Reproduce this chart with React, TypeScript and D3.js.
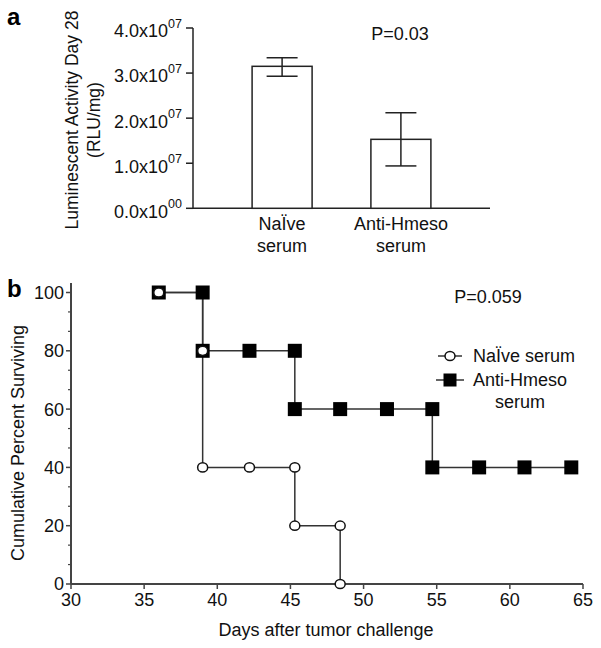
import React from "react";
import * as d3 from "d3";

// Panel a data
const barCategories = ["NaÏve|serum", "Anti-Hmeso|serum"];
const barMeans = [3.15e7, 1.53e7];
const barErrHigh = [3.34e7, 2.12e7];
const barErrLow = [2.93e7, 0.94e7];
const barTicks = [0, 1e7, 2e7, 3e7, 4e7];
const barTickLabels = ["0.0x10", "1.0x10", "2.0x10", "3.0x10", "4.0x10"];
const barTickExps = ["00", "07", "07", "07", "07"];

// Panel b data (Kaplan-Meier)
const naiveDays = [36, 39, 39, 42.2, 45.3, 45.3, 48.4, 48.4];
const naiveSurv = [100, 80, 40, 40, 40, 20, 20, 0];
const antiDays = [36, 39, 39, 42.2, 45.3, 45.3, 48.4, 51.6, 54.7, 54.7, 57.9, 61, 64.2];
const antiSurv = [100, 100, 80, 80, 80, 60, 60, 60, 60, 40, 40, 40, 40];
const xTicksB = [30, 35, 40, 45, 50, 55, 60, 65];
const yTicksB = [0, 20, 40, 60, 80, 100];

const FONT = "'Liberation Sans', Arial, Helvetica, sans-serif";
const W = 601, H = 648;

export default function App() {
  // Panel a scales
  const yA = d3.scaleLinear().domain([0, 4e7]).range([208.3, 28]);
  const xA = d3.scalePoint<string>().domain(barCategories).range([193, 490]).padding(0.75);
  const barW = 60;
  const capW = 31;

  // Panel b scales
  const xB = d3.scaleLinear().domain([30, 65]).range([71, 583]);
  const yB = d3.scaleLinear().domain([0, 100]).range([584, 292.5]);
  const minorB = d3.range(0, 100.01, 20 / 3).filter((v) => Math.abs(v / 20 - Math.round(v / 20)) > 0.01);

  const naivePts: [number, number][] = naiveDays.map((d, i) => [d, naiveSurv[i]]);
  const antiPts: [number, number][] = antiDays.map((d, i) => [d, antiSurv[i]]);
  const line = d3
    .line<[number, number]>()
    .x((d) => xB(d[0]))
    .y((d) => yB(d[1]))
    .curve(d3.curveStepAfter);

  const sq = 14;
  const axisCol = "#222";
  const axisColB = "#444";

  return (
    <svg
      width={W}
      height={H}
      style={{ position: "absolute", left: 0, top: 0, background: "#fff" }}
      fontFamily={FONT}
    >
      <rect x={0} y={0} width={W} height={H} fill="#fff" />
      {/* Panel labels */}
      <text x={7} y={25} fontSize={24} fontWeight="bold" fill="#000">a</text>
      <text x={7} y={297} fontSize={24} fontWeight="bold" fill="#000">b</text>

      {/* ---------- Panel a ---------- */}
      <g>
        <line x1={193} x2={193} y1={yA(4e7)} y2={yA(0)} stroke={axisCol} strokeWidth={1.5} />
        <line x1={193} x2={490} y1={yA(0)} y2={yA(0)} stroke={axisCol} strokeWidth={1.5} />
        {barTicks.map((t, i) => (
          <g key={i}>
            <line x1={186} x2={193} y1={yA(t)} y2={yA(t)} stroke={axisCol} strokeWidth={1.5} />
            <text x={182} y={yA(t) + 9.4} textAnchor="end" fontSize={18} fill="#111">
              {barTickLabels[i]}
              <tspan fontSize={12.5} dy={-9.4}>{barTickExps[i]}</tspan>
            </text>
          </g>
        ))}
        {barCategories.map((c, i) => {
          const cx = xA(c)!;
          const lines = c.split("|");
          return (
            <g key={c}>
              <rect
                x={cx - barW / 2}
                y={yA(barMeans[i])}
                width={barW}
                height={yA(0) - yA(barMeans[i])}
                fill="#fff"
                stroke={axisCol}
                strokeWidth={1.5}
              />
              <line x1={cx} x2={cx} y1={yA(barErrHigh[i])} y2={yA(barErrLow[i])} stroke={axisCol} strokeWidth={1.5} />
              <line x1={cx - capW / 2} x2={cx + capW / 2} y1={yA(barErrHigh[i])} y2={yA(barErrHigh[i])} stroke={axisCol} strokeWidth={1.5} />
              <line x1={cx - capW / 2} x2={cx + capW / 2} y1={yA(barErrLow[i])} y2={yA(barErrLow[i])} stroke={axisCol} strokeWidth={1.5} />
              <text x={cx} y={230} textAnchor="middle" fontSize={18} fill="#111">{lines[0]}</text>
              <text x={cx} y={252} textAnchor="middle" fontSize={18} fill="#111">{lines[1]}</text>
            </g>
          );
        })}
        <text x={400} y={40} textAnchor="middle" fontSize={18} fill="#111">P=0.03</text>
        <text
          transform={`translate(72,120) rotate(-90)`}
          textAnchor="middle"
          dominantBaseline="central"
          fontSize={17.5}
          fill="#111"
        >
          Luminescent Activity Day 28
        </text>
        <text
          transform={`translate(94,120) rotate(-90)`}
          textAnchor="middle"
          dominantBaseline="central"
          fontSize={17.5}
          fill="#111"
        >
          (RLU/mg)
        </text>
      </g>

      {/* ---------- Panel b ---------- */}
      <g>
        <line x1={71} x2={71} y1={283} y2={yB(0)} stroke={axisColB} strokeWidth={2} />
        <line x1={71} x2={583} y1={yB(0)} y2={yB(0)} stroke={axisColB} strokeWidth={2} />
        {yTicksB.map((t) => (
          <g key={t}>
            <line x1={66} x2={71} y1={yB(t)} y2={yB(t)} stroke={axisColB} strokeWidth={1.5} />
            <text x={64} y={yB(t)} dy="0.36em" textAnchor="end" fontSize={18} fill="#111">{t}</text>
          </g>
        ))}
        {minorB.map((t, i) => (
          <line key={i} x1={68} x2={71} y1={yB(t)} y2={yB(t)} stroke={axisColB} strokeWidth={1.2} />
        ))}
        {xTicksB.map((t) => (
          <g key={t}>
            <line x1={xB(t)} x2={xB(t)} y1={yB(0)} y2={yB(0) + 5} stroke={axisColB} strokeWidth={1.5} />
            <text x={xB(t)} y={yB(0) + 22} textAnchor="middle" fontSize={18} fill="#111">{t}</text>
          </g>
        ))}
        <text x={326} y={636} textAnchor="middle" fontSize={18} fill="#111">Days after tumor challenge</text>
        <text
          transform={`translate(18,443) rotate(-90)`}
          textAnchor="middle"
          dominantBaseline="central"
          fontSize={18}
          fill="#111"
        >
          Cumulative Percent Surviving
        </text>
        <text x={488} y={303} textAnchor="middle" fontSize={18} fill="#111">P=0.059</text>

        <path d={line(naivePts) || ""} fill="none" stroke="#333" strokeWidth={1.5} />
        <path d={line(antiPts) || ""} fill="none" stroke="#333" strokeWidth={1.5} />
        {antiPts.map((p, i) => (
          <rect key={"s" + i} x={xB(p[0]) - sq / 2} y={yB(p[1]) - sq / 2} width={sq} height={sq} fill="#000" />
        ))}
        {naivePts.map((p, i) => (
          <ellipse key={"c" + i} cx={xB(p[0])} cy={yB(p[1])} rx={5} ry={4.6} fill="#fff" stroke="#111" strokeWidth={1.5} />
        ))}

        {/* Legend */}
        <line x1={438} x2={462} y1={356} y2={356} stroke="#333" strokeWidth={1.5} />
        <ellipse cx={450} cy={356} rx={5} ry={4.6} fill="#fff" stroke="#111" strokeWidth={1.5} />
        <text x={473} y={356} dy="0.36em" fontSize={18} fill="#111">NaÏve serum</text>
        <line x1={436} x2={464} y1={380} y2={380} stroke="#333" strokeWidth={1.5} />
        <rect x={450 - 6.5} y={380 - 6.5} width={13} height={13} fill="#000" />
        <text x={473} y={380} dy="0.36em" fontSize={18} fill="#111">Anti-Hmeso</text>
        <text x={520} y={402} dy="0.36em" textAnchor="middle" fontSize={18} fill="#111">serum</text>
      </g>
    </svg>
  );
}
